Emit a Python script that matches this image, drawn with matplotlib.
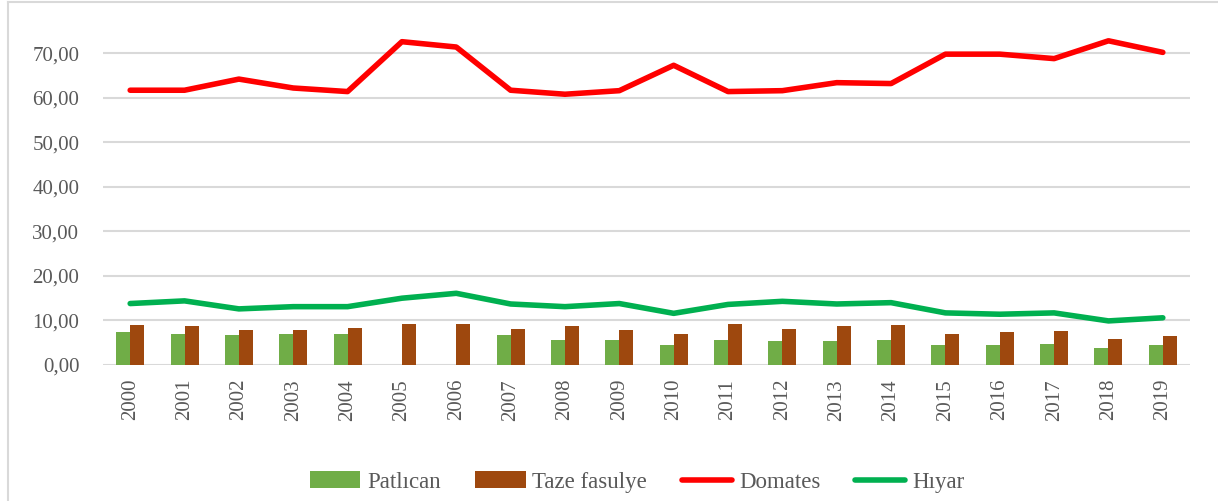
import matplotlib.pyplot as plt
from matplotlib.lines import Line2D
import numpy as np

# Yearly values
years = [str(y) for y in range(2000, 2020)]
patlican = [7.3, 7.0, 6.7, 7.0, 7.0, 0, 0, 6.7, 5.6, 5.6,
            4.4, 5.6, 5.3, 5.3, 5.6, 4.4, 4.4, 4.7, 3.9, 4.4]
taze_fasulye = [9.0, 8.7, 7.9, 7.9, 8.4, 9.3, 9.3, 8.1, 8.7, 7.9,
                7.0, 9.3, 8.1, 8.7, 9.0, 7.0, 7.3, 7.6, 5.9, 6.4]
domates = [61.7, 61.7, 64.2, 62.2, 61.4, 72.6, 71.4, 61.7, 60.8, 61.6,
           67.3, 61.4, 61.6, 63.4, 63.2, 69.8, 69.8, 68.8, 72.8, 70.2]
hiyar = [13.8, 14.4, 12.6, 13.1, 13.1, 15.0, 16.1, 13.7, 13.1, 13.8,
         11.6, 13.6, 14.3, 13.7, 14.0, 11.7, 11.4, 11.7, 9.9, 10.6]
yticks = [0, 10, 20, 30, 40, 50, 60, 70]

plt.rcParams['font.family'] = ['Liberation Serif', 'DejaVu Serif']
text_color = '#595959'

fig = plt.figure(figsize=(12.18, 5.01), dpi=100)
ax = fig.add_axes([103/1218, 1 - 365/501, (1190-103)/1218, (365-31)/501])

x = np.arange(len(years))
w = 0.258
b1 = ax.bar(x - w/2, patlican, w, color='#70AD47', label='Patlıcan', zorder=3)
b2 = ax.bar(x + w/2, taze_fasulye, w, color='#9E480E', label='Taze fasulye', zorder=3)
l1, = ax.plot(x, domates, color='#FF0000', lw=4, label='Domates', zorder=4,
              solid_capstyle='round', solid_joinstyle='round')
l2, = ax.plot(x, hiyar, color='#00B050', lw=4, label='Hıyar', zorder=4,
              solid_capstyle='round', solid_joinstyle='round')

ax.set_xlim(-0.5, len(years) - 0.5)
ax.set_ylim(0, 75)
ax.set_yticks(yticks)
ax.set_yticklabels([f'{v:.2f}'.replace('.', ',') for v in yticks])
ax.set_xticks(x)
ax.set_xticklabels(years, rotation=90)
ax.tick_params(axis='both', length=0, labelsize=15, colors=text_color)
ax.tick_params(axis='y', pad=17)
ax.tick_params(axis='x', pad=10)
ax.grid(axis='y', color='#D9D9D9', lw=1.5, zorder=0)
for s in ax.spines.values():
    s.set_visible(False)

ax.legend(handles=[b1, b2, l1, l2], loc='center',
          bbox_to_anchor=(637/1218, 1 - 482/501),
          bbox_transform=fig.transFigure, ncol=4, frameon=False,
          fontsize=16.5, labelcolor=text_color, handlelength=2.2,
          handleheight=0.7, handletextpad=0.3, columnspacing=1.5)

# chart frame (only left and top edges are visible in the crop)
fig.add_artist(Line2D([7.5/1218, 7.5/1218], [0, 1 - 1.5/501], color='#D9D9D9', lw=1.5))
fig.add_artist(Line2D([7.5/1218, 1], [1 - 1.5/501, 1 - 1.5/501], color='#D9D9D9', lw=1.5))

fig.savefig('out.png', dpi=100)
